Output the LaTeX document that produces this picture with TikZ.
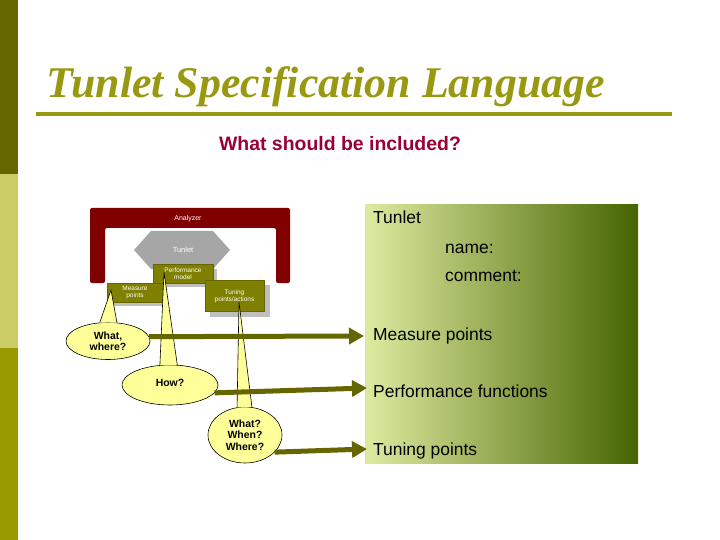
\documentclass[tikz,border=0pt]{standalone}
\usepackage{fontspec}
\setmainfont{Liberation Sans}
\newfontfamily\titlefont{Liberation Serif}
\usetikzlibrary{shapes.geometric,arrows.meta}
\definecolor{olivedark}{RGB}{102,102,0}
\definecolor{olivelight}{RGB}{204,204,102}
\definecolor{olivemid}{RGB}{153,153,0}
\definecolor{titlecol}{RGB}{153,153,17}
\definecolor{subcol}{RGB}{153,0,51}
\definecolor{analyzer}{RGB}{128,0,0}
\definecolor{hexgray}{RGB}{166,166,166}
\definecolor{boxol}{RGB}{128,128,0}
\definecolor{calloutfill}{RGB}{255,255,153}
\definecolor{arrowcol}{RGB}{102,102,0}
\definecolor{pl}{RGB}{221,235,160}
\definecolor{pm}{RGB}{150,186,50}
\definecolor{pd}{RGB}{70,100,0}
\tikzset{
  x=1bp, y=-1bp,
  smallbox/.style={fill=boxol, draw=boxol!80!black, line width=0.4bp, text=white, font=\fontsize{6.5}{7}\selectfont, align=center, inner sep=0pt},
  shadowbox/.style={fill=black!25, draw=none},
  callout/.style={ellipse, fill=calloutfill, draw=black, line width=0.6bp, font=\bfseries\fontsize{10.5}{11.5}\selectfont, align=center, inner sep=0pt},
  wedgefill/.style={fill=calloutfill},
  wedgeline/.style={draw=black, line width=0.6bp},
  bigarrow/.style={draw=arrowcol, line width=5bp, -{Triangle[length=15bp,width=16bp]}},
  paneltext/.style={anchor=base west, inner sep=0pt, font=\fontsize{17.5}{19}\selectfont}
}
\begin{document}
\begin{tikzpicture}
\path[use as bounding box, fill=white] (0,0) rectangle (720,540);
% left bar
\fill[olivedark] (0,0) rectangle (18,174);
\fill[olivelight] (0,174) rectangle (18,348);
\fill[olivemid] (0,348) rectangle (18,540);
% title
\node[anchor=base west, inner sep=0pt, text=titlecol, font=\titlefont\bfseries\itshape\fontsize{44}{48}\selectfont] (title) at (46,98) {Tunlet Specification Language};
\draw[titlecol, line width=3.5bp] (36,114) -- (672,114);
\node[anchor=base, inner sep=0pt, text=subcol, font=\bfseries\fontsize{19.5}{21}\selectfont] (sub) at (340,151) {What should be included?};
% analyzer
\fill[analyzer, rounded corners=2bp] (90,208) -- (290,208) -- (290,283) -- (276,283) -- (276,228) -- (105,228) -- (105,283) -- (90,283) -- cycle;
\node[text=white, font=\fontsize{7}{8}\selectfont, inner sep=0pt] (an) at (188,219) {Analyzer};
% hexagon
\fill[hexgray] (134,250) -- (151,231) -- (213,231) -- (230,250) -- (213,269) -- (151,269) -- cycle;
\node[text=white, font=\fontsize{7.5}{8}\selectfont, inner sep=0pt] (hx) at (183,250) {Tunlet};
% boxes
\fill[shadowbox] (157,269) rectangle (217,287);
\node[smallbox, minimum width=60bp, minimum height=19bp] (perf) at (183,273.5) {Performance\\model};
\fill[shadowbox] (111,287) rectangle (167,306);
\node[smallbox, minimum width=56bp, minimum height=19bp] (meas) at (135,292.5) {Measure\\points};
\fill[shadowbox] (210,285) rectangle (270,317);
\node[smallbox, minimum width=59bp, minimum height=31bp] (tun) at (234.5,296) {Tuning\\points/actions};
% callouts
\node[callout, minimum width=84bp, minimum height=37bp] (ww) at (108,341) {What,\\where?};
\fill[wedgefill] (ww.64) -- (111,290) -- (ww.114) -- cycle;
\draw[wedgeline] (ww.64) -- (111,290) -- (ww.114);
\node[callout, minimum width=96bp, minimum height=40bp] (how) at (170,385) {\raisebox{5bp}{How?}};
\fill[wedgefill] (how.70) -- (164,272) -- (how.117) -- cycle;
\draw[wedgeline] (how.70) -- (164,272) -- (how.117);
\node[callout, minimum width=74bp, minimum height=56bp] (www) at (245,435) {What?\\When?\\Where?};
\fill[wedgefill] (www.76) -- (239,302) -- (www.106) -- cycle;
\draw[wedgeline] (www.76) -- (239,302) -- (www.106);
% panel
\shade[left color=pl, middle color=pm, right color=pd] (365,205) rectangle (638,463);
\node[paneltext] (t1) at (373,224) {Tunlet};
\node[paneltext] (t2) at (445,254) {name:};
\node[paneltext] (t3) at (445,282) {comment:};
\node[paneltext] (mp) at (373,340) {Measure points};
\node[paneltext] (pf) at (373,397) {Performance functions};
\node[paneltext] (tp) at (373,455) {Tuning points};
% arrows
\coordinate (a1) at (364,336);
\coordinate (a2) at (367,388);
\coordinate (a3) at (367,449);
\draw[bigarrow] (ww.6) -- (a1);
\draw[bigarrow] (how.-10) -- (a2);
\draw[bigarrow] (www.-30) -- (a3);
\end{tikzpicture}
\end{document}
